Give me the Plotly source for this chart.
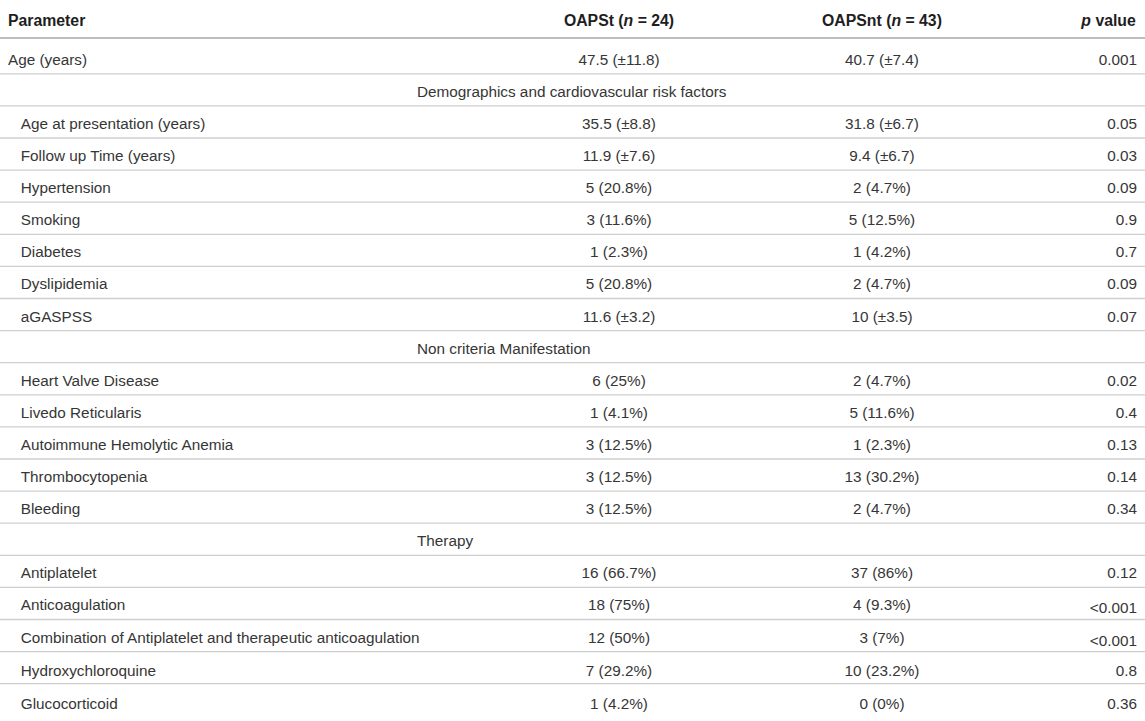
import plotly.graph_objects as go

# ---------------- data ----------------
header_labels = ["<b>Parameter</b>", "<b>OAPSt (<i>n</i> = 24)</b>",
                 "<b>OAPSnt (<i>n</i> = 43)</b>", "<b><i>p</i> value</b>"]

sections = ["", "Demographics and cardiovascular risk factors", "", "", "", "", "", "", "",
            "Non criteria Manifestation", "", "", "", "", "",
            "Therapy", "", "", "", "", ""]

parameters = ["Age (years)", "", "Age at presentation (years)", "Follow up Time (years)",
              "Hypertension", "Smoking", "Diabetes", "Dyslipidemia", "aGASPSS",
              "", "Heart Valve Disease", "Livedo Reticularis", "Autoimmune Hemolytic Anemia",
              "Thrombocytopenia", "Bleeding",
              "", "Antiplatelet", "Anticoagulation",
              "Combination of Antiplatelet and therapeutic anticoagulation",
              "Hydroxychloroquine", "Glucocorticoid"]

indented = [False, False, True, True, True, True, True, True, True,
            False, True, True, True, True, True,
            False, True, True, True, True, True]

oapst = ["47.5 (±11.8)", "", "35.5 (±8.8)", "11.9 (±7.6)", "5 (20.8%)", "3 (11.6%)",
         "1 (2.3%)", "5 (20.8%)", "11.6 (±3.2)",
         "", "6 (25%)", "1 (4.1%)", "3 (12.5%)", "3 (12.5%)", "3 (12.5%)",
         "", "16 (66.7%)", "18 (75%)", "12 (50%)", "7 (29.2%)", "1 (4.2%)"]

oapsnt = ["40.7 (±7.4)", "", "31.8 (±6.7)", "9.4 (±6.7)", "2 (4.7%)", "5 (12.5%)",
          "1 (4.2%)", "2 (4.7%)", "10 (±3.5)",
          "", "2 (4.7%)", "5 (11.6%)", "1 (2.3%)", "13 (30.2%)", "2 (4.7%)",
          "", "37 (86%)", "4 (9.3%)", "3 (7%)", "10 (23.2%)", "0 (0%)"]

p_values = ["0.001", "", "0.05", "0.03", "0.09", "0.9", "0.7", "0.09", "0.07",
            "", "0.02", "0.4", "0.13", "0.14", "0.34",
            "", "0.12", "<0.001", "<0.001", "0.8", "0.36"]

# ---------------- layout constants ----------------
W, H = 1145, 721
TOP = 3.6            # table pushed down a little so text sits in the row middle
HEADER_H = 41.7
CELL_H = 32.1
COL_W = [488, 262, 264, 131]
FONT = "Liberation Sans, Arial, Helvetica, sans-serif"
TXT = "#363636"
FS = 15.3
INDENT = "\u00a0" * 3

param_text = [(INDENT + p) if ind else p for p, ind in zip(parameters, indented)]
top_frac = 1 - TOP / H

fig = go.Figure()

fig.add_trace(go.Table(
    domain=dict(x=[0, 1], y=[0, top_frac]),
    columnwidth=COL_W,
    header=dict(values=header_labels,
                align=["left", "center", "center", "right"],
                height=HEADER_H,
                fill_color="white",
                line=dict(width=0, color="white"),
                font=dict(family=FONT, size=15.8, color="#1e1e1e")),
    cells=dict(values=[param_text, oapst, oapsnt, p_values],
               align=["left", "center", "center", "right"],
               height=CELL_H,
               fill_color="white",
               line=dict(width=0, color="white"),
               font=dict(family=FONT, size=FS, color=TXT)),
))

# overlay table carrying the section labels (they span columns in the original)
sec_x0 = 409 / W
fig.add_trace(go.Table(
    domain=dict(x=[sec_x0, sec_x0 + 420 / W], y=[0, top_frac]),
    columnwidth=[420],
    header=dict(values=[""], height=HEADER_H,
                fill_color="rgba(0,0,0,0)",
                line=dict(width=0, color="rgba(0,0,0,0)")),
    cells=dict(values=[sections], align="left", height=CELL_H,
               fill_color="rgba(0,0,0,0)",
               line=dict(width=0, color="rgba(0,0,0,0)"),
               font=dict(family=FONT, size=FS, color=TXT)),
))

# horizontal separators
shapes = []
hy = HEADER_H - 3.7
shapes.append(dict(type="line", xref="paper", yref="paper", x0=0, x1=1,
                   y0=1 - hy / H, y1=1 - hy / H,
                   line=dict(color="#a8a8a8", width=1.6)))
for i in range(1, len(parameters)):
    y = HEADER_H + i * CELL_H
    shapes.append(dict(type="line", xref="paper", yref="paper", x0=0, x1=1,
                       y0=1 - y / H, y1=1 - y / H,
                       line=dict(color="#cfcfcf", width=1.3)))

fig.update_layout(width=W, height=H, margin=dict(l=0, r=0, t=0, b=0),
                  paper_bgcolor="white", plot_bgcolor="white", shapes=shapes)

fig.write_html("out.html", config={"displayModeBar": False},
               post_script="document.body.style.margin='0';")
